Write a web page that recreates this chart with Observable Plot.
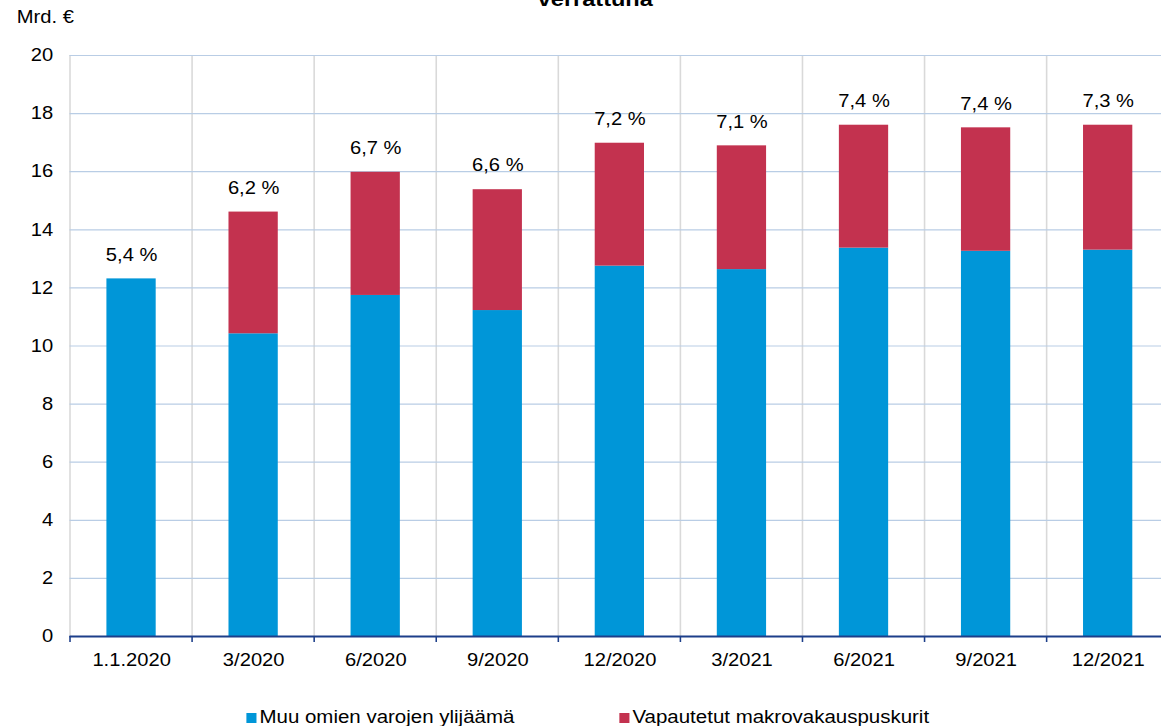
<!DOCTYPE html>
<html>
<head>
<meta charset="utf-8">
<script src="https://cdn.jsdelivr.net/npm/d3@7"></script>
<script src="https://cdn.jsdelivr.net/npm/@observablehq/plot@0.6"></script>
<style>
  html, body { margin: 0; padding: 0; background: #fff; overflow: hidden; width: 1161px; height: 726px; }
  body { font-family: "Liberation Sans", Arial, sans-serif; color: #000; }
  #page { position: absolute; top: 0; left: 0; width: 1045px; height: 726px; transform: scaleX(1.12); transform-origin: 0 0; }
  #title { position: absolute; top: -12px; left: 0; width: 1063px; text-align: center; font-weight: bold; font-size: 21px; line-height: 21px; white-space: nowrap; }
  #unit { position: absolute; top: 7px; left: 15px; font-size: 18px; }
  #chart { position: absolute; top: 0; left: 0; }
  #chart svg { max-width: none; }
  #legend { position: absolute; top: 706px; left: 0; width: 1045px; font-size: 18.3px; line-height: 21px; }
  .lg { position: absolute; white-space: nowrap; }
  .sw { display: inline-block; width: 9px; height: 10px; margin-right: 3px; }
</style>
</head>
<body>
<div id="page">
  <div id="title">verrattuna</div>
  <div id="unit">Mrd. €</div>
  <div id="chart"></div>
  <div id="legend"></div>
</div>
<script>
const categories = ["1.1.2020", "3/2020", "6/2020", "9/2020", "12/2020", "3/2021", "6/2021", "9/2021", "12/2021"];
const muuValues = [12.31, 10.42, 11.74, 11.22, 12.75, 12.63, 13.37, 13.26, 13.30];
const vapautetutValues = [0, 4.19, 4.24, 4.16, 4.23, 4.26, 4.23, 4.25, 4.30];
const pctLabels = ["5,4 %", "6,2 %", "6,7 %", "6,6 %", "7,2 %", "7,1 %", "7,4 %", "7,4 %", "7,3 %"];
const seriesNames = ["Muu omien varojen ylijäämä", "Vapautetut makrovakauspuskurit"];
const seriesColors = ["#0096d8", "#c3324f"];
const yTicks = [0, 2, 4, 6, 8, 10, 12, 14, 16, 18, 20];

const rows = [];
categories.forEach((c, i) => {
  rows.push({cat: c, series: seriesNames[0], value: muuValues[i]});
  rows.push({cat: c, series: seriesNames[1], value: vapautetutValues[i]});
});
const totals = categories.map((c, i) => ({cat: c, total: muuValues[i] + vapautetutValues[i], label: pctLabels[i]}));

const S = 1.12; // horizontal stretch of the whole page
const font = "'Liberation Sans', Arial, sans-serif";
const plot = Plot.plot({
  width: 1170 / S,
  height: 690,
  marginTop: 55,
  marginBottom: 54,
  marginLeft: 69.5 / S,
  marginRight: 0.5 / S,
  style: {fontFamily: font, fontSize: "18px", color: "#000", background: "transparent"},
  x: {domain: categories, paddingInner: 0.6, paddingOuter: 0.3, align: 0.5},
  y: {domain: [0, 20]},
  color: {domain: seriesNames, range: seriesColors},
  marks: [
    Plot.gridY(yTicks, {stroke: "#b9cde5", strokeOpacity: 1, strokeWidth: 1.2}),
    Plot.barY(rows, {x: "cat", y: "value", fill: "series", order: seriesNames}),
    Plot.text(totals, {x: "cat", y: "total", text: "label", dy: -24, fontSize: 18, fill: "#000"}),
    Plot.ruleY([0], {stroke: "#1d3f8a", strokeWidth: 2}),
    Plot.axisY(yTicks, {tickSize: 0, tickPadding: 15, fontSize: 18, label: null}),
    Plot.axisX({tickSize: 0, tickPadding: 17, fontSize: 18, label: null})
  ]
});

// vertical category-boundary gridlines and axis ticks, from the x scale
const xs = plot.scale("x");
const step = xs.step;
const offset = (step - xs.bandwidth) / 2;
const yScale = plot.scale("y");
const yTop = yScale.apply(20), yBase = yScale.apply(0);
const bounds = categories.map(c => xs.apply(c) - offset);
bounds.push(xs.apply(categories[categories.length - 1]) + xs.bandwidth + offset);
const svg = d3.select(plot);
const g = svg.insert("g", "g");
g.selectAll("line").data(bounds).join("line")
  .attr("x1", d => d).attr("x2", d => d)
  .attr("y1", yTop).attr("y2", yBase)
  .attr("stroke", "#d9d9d9").attr("stroke-width", 1.4);
const gt = svg.append("g");
gt.selectAll("line").data(bounds).join("line")
  .attr("x1", d => d).attr("x2", d => d)
  .attr("y1", yBase).attr("y2", yBase + 6)
  .attr("stroke", "#1d3f8a").attr("stroke-width", 1.4);

document.getElementById("chart").appendChild(plot);

// legend
const legend = document.getElementById("legend");
const legendX = [246 / S, 619 / S];
seriesNames.forEach((name, i) => {
  const item = document.createElement("div");
  item.className = "lg";
  item.style.left = legendX[i] + "px";
  item.innerHTML = `<span class="sw" style="background:${seriesColors[i]}"></span>${name}`;
  legend.appendChild(item);
});
</script>
</body>
</html>
